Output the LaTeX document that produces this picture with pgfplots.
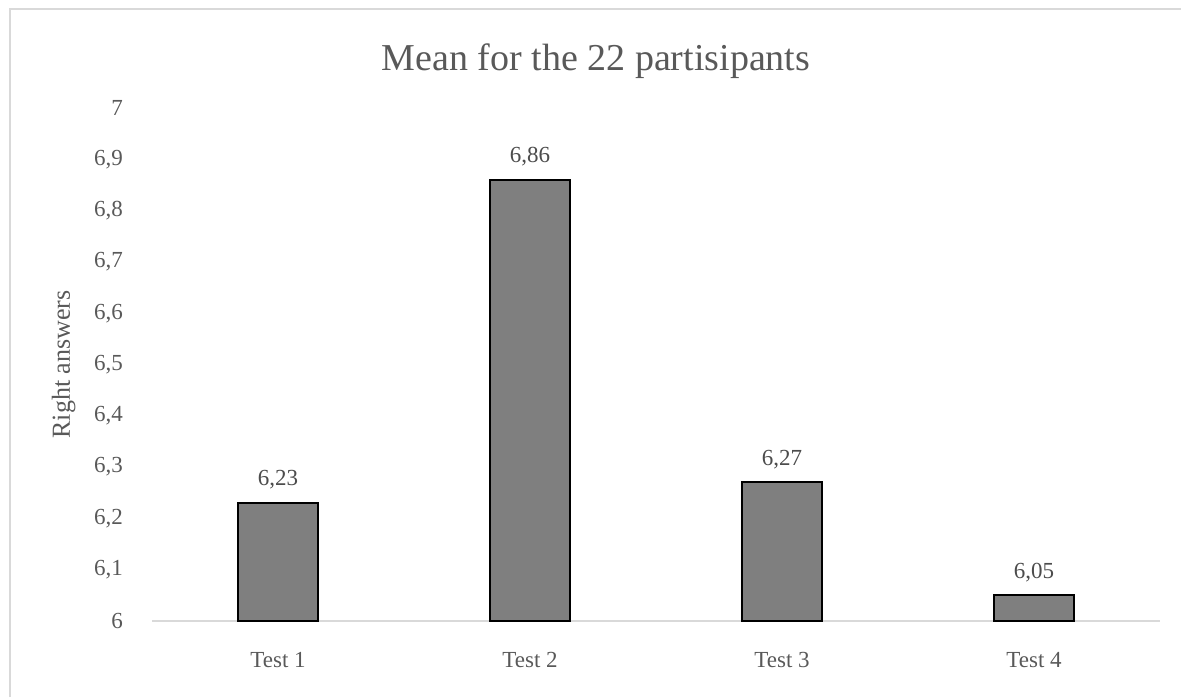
\documentclass[border=0pt]{standalone}
\usepackage{pgfplots}
\pgfplotsset{compat=1.18}
\usepackage{fontspec}
\setmainfont{Liberation Serif}
\definecolor{txt}{HTML}{595959}
\definecolor{barc}{HTML}{7F7F7F}
\definecolor{grid}{HTML}{D9D9D9}
\begin{document}
\begin{tikzpicture}[x=1pt,y=1pt]
\path[use as bounding box] (0,0) rectangle (590.5,348.5);
\draw[grid, line width=1pt] (5,0) -- (5,344) -- (590.5,344);
\node[txt, font=\fontsize{19}{22}\selectfont] at (298,318) {Mean for the 22 partisipants};
\begin{axis}[
  at={(76pt,38pt)}, anchor=south west,
  scale only axis, width=504pt, height=256.5pt,
  ybar, bar width=40pt,
  xmin=-0.5, xmax=3.5, ymin=6, ymax=7,
  xtick={0,1,2,3}, xticklabels={Test 1,Test 2,Test 3,Test 4},
  ytick={6,6.1,...,7.01},
  axis x line*=bottom, axis y line*=left,
  y axis line style={draw=none},
  x axis line style={grid, line width=0.8pt, -},
  major tick length=0pt,
  tick style={draw=none},
  tick label style={txt, font=\fontsize{11.5}{13}\selectfont},
  /pgf/number format/assume math mode=true,
  yticklabel style={/pgf/number format/use comma,/pgf/number format/fixed,/pgf/number format/precision=1, xshift=-11pt},
  xticklabel style={yshift=-12pt},
  ylabel={Right answers},
  ylabel style={txt, font=\fontsize{13}{15}\selectfont, yshift=2.5pt},
  nodes near coords,
  nodes near coords style={black!70, font=\fontsize{11.5}{13}\selectfont, /pgf/number format/use comma,/pgf/number format/fixed,/pgf/number format/fixed zerofill,/pgf/number format/precision=2, yshift=3pt},
  clip=false,
]
\addplot[fill=barc, draw=black, line width=1pt] coordinates {(0,6.23) (1,6.86) (2,6.27) (3,6.05)};
\end{axis}
\end{tikzpicture}
\end{document}
